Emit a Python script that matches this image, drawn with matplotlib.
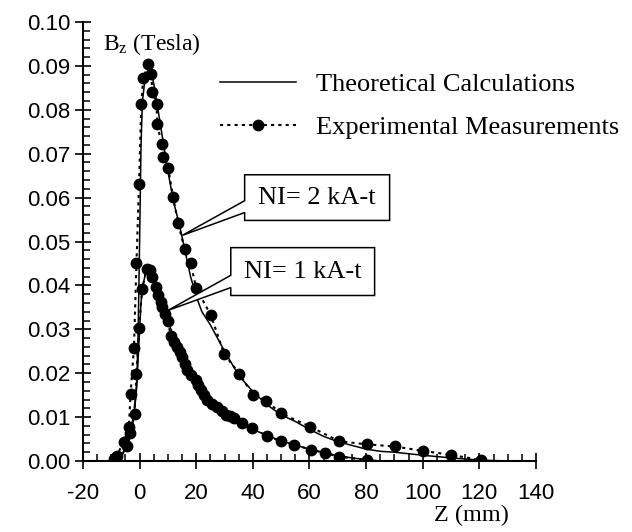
import numpy as np
import matplotlib
matplotlib.use('Agg')
import matplotlib.pyplot as plt
from matplotlib.patches import Polygon
from matplotlib.ticker import MultipleLocator, FormatStrFormatter

plt.rcParams['font.family'] = 'Liberation Sans'
plt.rcParams['axes.unicode_minus'] = False
plt.rcParams['mathtext.fontset'] = 'custom'
plt.rcParams['mathtext.rm'] = 'Liberation Serif'
plt.rcParams['mathtext.it'] = 'Liberation Serif:italic'

# theoretical curves (NI = 2 kA-t and NI = 1 kA-t)
z_th2 = [-10, -8, -6, -4, -3, -2, -1, -0.5, 0, 0.5, 1, 2, 3, 4, 5, 6, 8, 10, 12, 14, 16, 18, 20,
         22, 25, 30, 35, 40, 45, 50, 55, 60, 65, 70, 80, 85, 90, 100, 110, 120, 130]
b_th2 = [0, 0.0005, 0.0018, 0.004, 0.007, 0.011, 0.018, 0.03, 0.05, 0.072, 0.082, 0.0875, 0.089,
         0.0885, 0.086, 0.082, 0.074, 0.066, 0.059, 0.054, 0.048, 0.042, 0.0375,
         0.034, 0.031, 0.025, 0.0195, 0.0158, 0.0128, 0.0105, 0.0090, 0.0072, 0.0056, 0.0044,
         0.0027, 0.0022, 0.0020, 0.0013, 0.0007, 0.0002, 0]

z_th1 = [-10, -8, -6, -4, -3, -2, -1, 0, 0.5, 1, 2, 3, 4, 5, 6, 8, 10, 12, 14, 16, 18, 20,
         25, 30, 35, 40, 45, 50, 55, 60, 65, 70, 75, 80, 85]
b_th1 = [0, 0.0005, 0.0015, 0.004, 0.0065, 0.010, 0.017, 0.030, 0.036, 0.0395, 0.0425, 0.0435,
         0.043, 0.0415, 0.0395, 0.0355, 0.0318, 0.0285, 0.0255, 0.0228, 0.0203, 0.0180,
         0.0138, 0.0108, 0.0088, 0.0072, 0.0058, 0.0046, 0.0036, 0.0027, 0.0019, 0.0012,
         0.0007, 0.0003, 0]

# experimental measurements
z_ex2 = [-8.5, -5.5, -3.8, -3.2, -2.0, -1.1, -0.2, 0.6, 1.3, 3.1, 4.1, 4.5, 6.0, 6.2, 7.8, 8.4,
         10.1, 11.8, 13.6, 15.9, 18.0, 20.0, 25.1, 29.9, 35.2, 40.0, 44.7, 49.8, 60.3, 70.4,
         80.2, 90.1, 100.1, 109.9, 120.5]
b_ex2 = [0.0008, 0.0044, 0.0078, 0.0152, 0.0258, 0.0452, 0.0632, 0.0814, 0.0873, 0.0904,
         0.0881, 0.0841, 0.0814, 0.0767, 0.0722, 0.0692, 0.0667, 0.0602, 0.0542, 0.0483,
         0.0452, 0.0393, 0.0333, 0.0243, 0.0199, 0.0151, 0.0137, 0.0109, 0.0078, 0.0045,
         0.0038, 0.0033, 0.0023, 0.0014, 0.0002]

z_ex1 = [-9.1, -7.9, -4.3, -3.4, -1.8, -1.1, -0.2, 0.9, 2.5, 3.6, 4.5, 5.7, 6.6, 7.4, 8.0, 8.8,
         10.0, 11.0, 12.0, 13.3, 14.2, 15.1, 16.0, 16.8, 18.3, 19.8, 20.7, 21.6, 22.8, 23.9,
         25.5, 27.5, 29.0, 30.4, 32.0, 33.3, 36.3, 39.8, 45.1, 49.9, 54.7, 60.4, 65.5, 70.4, 80.2]
b_ex1 = [0.0004, 0.0011, 0.0033, 0.0063, 0.0108, 0.0199, 0.0302, 0.0392, 0.0438, 0.0434,
         0.0419, 0.0396, 0.0377, 0.0362, 0.0351, 0.0334, 0.0318, 0.0285, 0.0272, 0.0260,
         0.0248, 0.0237, 0.0222, 0.0207, 0.0195, 0.0184, 0.0172, 0.0161, 0.0150, 0.0139,
         0.0130, 0.0123, 0.0114, 0.0105, 0.0102, 0.0099, 0.0086, 0.0074, 0.0057, 0.0045,
         0.0037, 0.0026, 0.0018, 0.0010, 0.0002]

fig = plt.figure(figsize=(6.32, 5.32), dpi=100)
ax = fig.add_axes([0.1313, 0.1335, 0.7168, 0.8251])

dots = (0, (1.5, 2))
ax.plot(z_th2, b_th2, '-', color='black', lw=1.1, label='Theoretical Calculations')
ax.plot(z_th1, b_th1, '-', color='black', lw=1.1)
ax.plot(z_ex2, b_ex2, color='black', ls=dots, lw=1.5, marker='o', ms=7.5,
        label='Experimental Measurements')
ax.plot(z_ex1, b_ex1, color='black', ls=dots, lw=1.5, marker='o', ms=7.5)

ax.set_xlim(-20, 140)
ax.set_ylim(0, 0.1)
for s in ['top', 'right']:
    ax.spines[s].set_visible(False)
for s in ['left', 'bottom']:
    ax.spines[s].set_linewidth(1.5)

ax.xaxis.set_major_locator(MultipleLocator(20))
ax.xaxis.set_minor_locator(MultipleLocator(5))
ax.yaxis.set_major_locator(MultipleLocator(0.01))
ax.yaxis.set_minor_locator(MultipleLocator(0.002))
ax.yaxis.set_major_formatter(FormatStrFormatter('%.2f'))
ax.tick_params(which='major', direction='inout', length=11, width=1.2, labelsize=16)
ax.tick_params(which='minor', direction='in', length=5, width=1.1)
ax.tick_params(axis='x', which='major', pad=10)

ax.text(-13.1, 0.095, r'B$_\mathrm{z}$ (Tesla)', family='Liberation Serif', fontsize=17,
        va='center', ha='left')
ax.text(103.9, -0.0123, 'Z (mm)', family='Liberation Serif', fontsize=17.5,
        va='center', ha='left', clip_on=False)

leg = ax.legend(loc='upper left', bbox_to_anchor=(0.302, 0.884), frameon=False,
                prop={'family': 'Liberation Serif', 'size': 19}, handlelength=2.9,
                handletextpad=0.75, labelspacing=0.72, borderpad=0, borderaxespad=0)

# callout boxes
callouts = [
    ('NI= 2 kA-t', 37.1, 88.3, 0.0548, 0.0652, 0.0566, 0.0593, 15.1, 0.0514),
    ('NI= 1 kA-t', 32.2, 83.0, 0.0377, 0.0486, 0.0395, 0.0423, 10.0, 0.0343),
]
for txt, x0, x1, y0, y1, wy0, wy1, tx, ty in callouts:
    pts = [(x0, y1), (x0, wy1), (tx, ty), (x0, wy0), (x0, y0), (x1, y0), (x1, y1)]
    ax.add_patch(Polygon(pts, closed=True, facecolor='white', edgecolor='black',
                         lw=1.1, zorder=5))
    ax.text((x0 + x1) / 2, (y0 + y1) / 2, txt, family='Liberation Serif', fontsize=19,
            ha='center', va='center', zorder=6)

fig.savefig('out.png', dpi=100)
